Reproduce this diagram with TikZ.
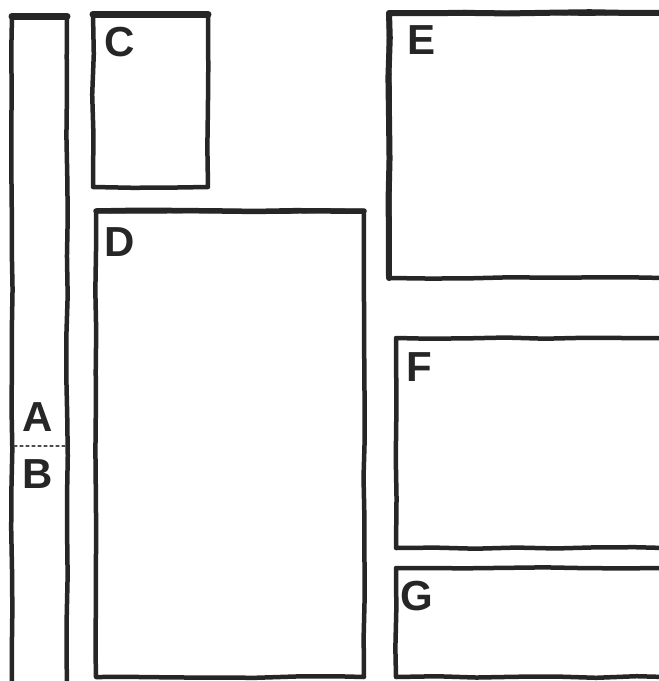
\documentclass[tikz,border=0pt]{standalone}
\usepackage{fontspec}
\setmainfont{Liberation Sans}
\usetikzlibrary{decorations.pathmorphing}
\begin{document}
\begin{tikzpicture}[x=1pt,y=-1pt,line join=round,line cap=round,
		box/.style={draw=black!85,line width=4.5pt,decorate,decoration={random steps,segment length=40pt,amplitude=0.8pt}},
		lid/.style={draw=black!85,line width=7pt},
		lbl/.style={anchor=north west,inner sep=0pt,font=\fontsize{42}{42}\selectfont\bfseries,text=black!85}]
			\useasboundingbox (0,0) rectangle (659,681);
			\pgfmathsetseed{7}
			% strip A / B
			\draw[box] (12,690) -- (12,16) -- (67,16) -- (67,690);
			\draw[lid] (12,16) -- (67,16);
			\draw[dashed,line width=1.2pt,black!70] (14,446) -- (65,446);
			\node[lbl] (A) at (22,402) {A};
			\node[lbl] (B) at (22,459) {B};
			% C
			\draw[box] (93,14) rectangle (208,187);
			\draw[lid] (93,14) -- (208,14);
			\node[lbl] (C) at (104,27) {C};
			% D
			\draw[box] (96,211) rectangle (364,677);
			\draw[box,line width=5.5pt] (96,211) -- (364,211);
			\node[lbl] (D) at (104,227) {D};
			% E
			\draw[box] (389,13) rectangle (665,278);
			\draw[box,line width=6pt] (389,278) -- (389,13) -- (665,13);
			\node[lbl] (E) at (407,25) {E};
			% F
			\draw[box] (396,338) rectangle (665,548);
			\node[lbl] (F) at (406,352) {F};
			% G
			\draw[box] (396,568) rectangle (665,677);
			\node[lbl] (G) at (400,581) {G};
	\end{tikzpicture}
\end{document}
